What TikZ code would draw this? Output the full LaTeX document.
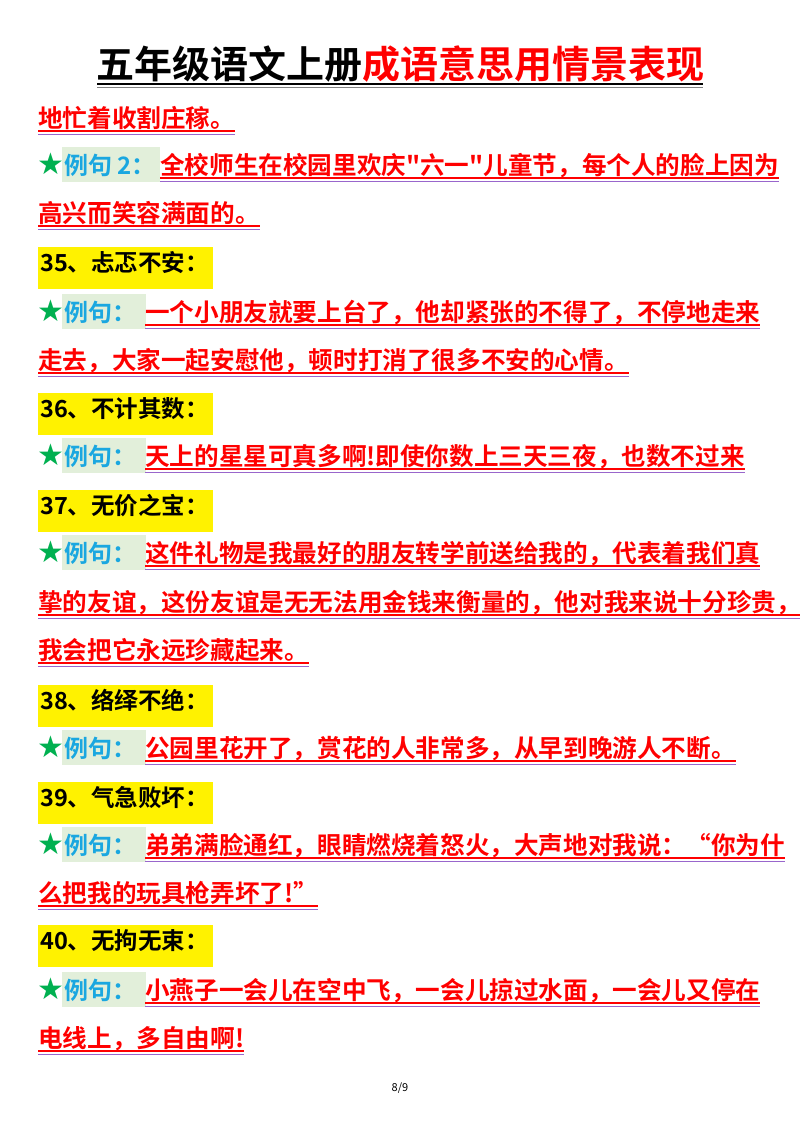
\documentclass[tikz,border=0pt]{standalone}
\usepackage{fontspec}
\newfontfamily\cjk{Noto Sans CJK SC}
\newfontfamily\cjkb{Noto Sans CJK SC Bold}
\newfontfamily\djfont{DejaVu Sans}
\definecolor{rd}{HTML}{FF0000}
\definecolor{pu}{HTML}{9966CC}
\definecolor{bl}{HTML}{1AA7E0}
\definecolor{gf}{HTML}{E2EFDA}
\definecolor{st}{HTML}{00B050}
\begin{document}
\begin{tikzpicture}[x=1pt,y=-1pt,
 txt/.style={anchor=base west,inner sep=0pt,font=\cjkb\fontsize{24.6}{24.6}\selectfont,text=rd},
 head/.style={anchor=base west,inner sep=0pt,font=\cjkb\fontsize{23.5}{23.5}\selectfont,text=black},
 lab/.style={anchor=base west,inner sep=0pt,font=\cjkb\fontsize{24}{24}\selectfont,text=bl},
 star/.style={anchor=base west,inner sep=0pt,font=\djfont\fontsize{30}{30}\selectfont,text=st},
 ul/.style={rd,line width=1.6pt},
 pl/.style={pu,line width=1pt}]
\useasboundingbox (0,0) rectangle (800,1132);
\newcommand\myunder[1]{\draw[ul] ([yshift=-4]#1.base west) -- ([yshift=-4]#1.base east);
 \draw[pl] ([yshift=-7]#1.base west) -- ([yshift=-7]#1.base east);}
\newcommand\myexl[3]{%
 \node[star] (s#1) at (37,#2) {★};
 \fill[gf] (62,#2-27) rectangle (146,#2+8);
 \node[lab] (l#1) at (64,#2) {例句：};
 \node[txt] (t#1) at (145,#2) {#3};
 \myunder{t#1}}
\newcommand\myhd[3]{%
 \fill[yellow] (38,#2-24) rectangle (213,#2+18);
 \node[head] (h#1) at (40,#2) {#3};}
\newcommand\myln[3]{\node[txt] (#1) at (38,#2) {#3}; \myunder{#1}}
\node[anchor=base,inner sep=0pt,font=\cjkb\fontsize{38}{38}\selectfont] (title) at (400,78) {五年级语文上册\textcolor{rd}{成语意思用情景表现}};
\draw[line width=1.6pt] (97,84) -- (703,84);
\draw[line width=1pt,gray] (97,87.5) -- (703,87.5);
\myln{a1}{127}{地忙着收割庄稼。}
\node[star] (s0) at (37,174) {★};
\fill[gf] (62,147) rectangle (160,182);
\node[lab] (l0) at (64,174) {例句 2：};
\node[txt] (t0) at (160,174) {全校师生在校园里欢庆"六一"儿童节，每个人的脸上因为};
\myunder{t0}
\myln{a2}{222}{高兴而笑容满面的。}
\myhd{35}{271}{35、忐忑不安：}
\myexl{35}{321}{一个小朋友就要上台了，他却紧张的不得了，不停地走来}
\myln{a3}{369}{走去，大家一起安慰他，顿时打消了很多不安的心情。}
\myhd{36}{417}{36、不计其数：}
\myexl{36}{465}{天上的星星可真多啊!即使你数上三天三夜，也数不过来}
\myhd{37}{514}{37、无价之宝：}
\myexl{37}{562}{这件礼物是我最好的朋友转学前送给我的，代表着我们真}
\myln{a4}{611}{挚的友谊，这份友谊是无无法用金钱来衡量的，他对我来说十分珍贵，}
\myln{a5}{659}{我会把它永远珍藏起来。}
\myhd{38}{709}{38、络绎不绝：}
\myexl{38}{757}{公园里花开了，赏花的人非常多，从早到晚游人不断。}
\myhd{39}{806}{39、气急败坏：}
\myexl{39}{854}{弟弟满脸通红，眼睛燃烧着怒火，大声地对我说：“你为什}
\myln{a6}{902}{么把我的玩具枪弄坏了!”}
\myhd{40}{949}{40、无拘无束：}
\myexl{40}{999}{小燕子一会儿在空中飞，一会儿掠过水面，一会儿又停在}
\myln{a7}{1047}{电线上，多自由啊!}
\node[font=\cjk\fontsize{11}{11}\selectfont] (pg) at (400,1088) {8/9};
\end{tikzpicture}
\end{document}
